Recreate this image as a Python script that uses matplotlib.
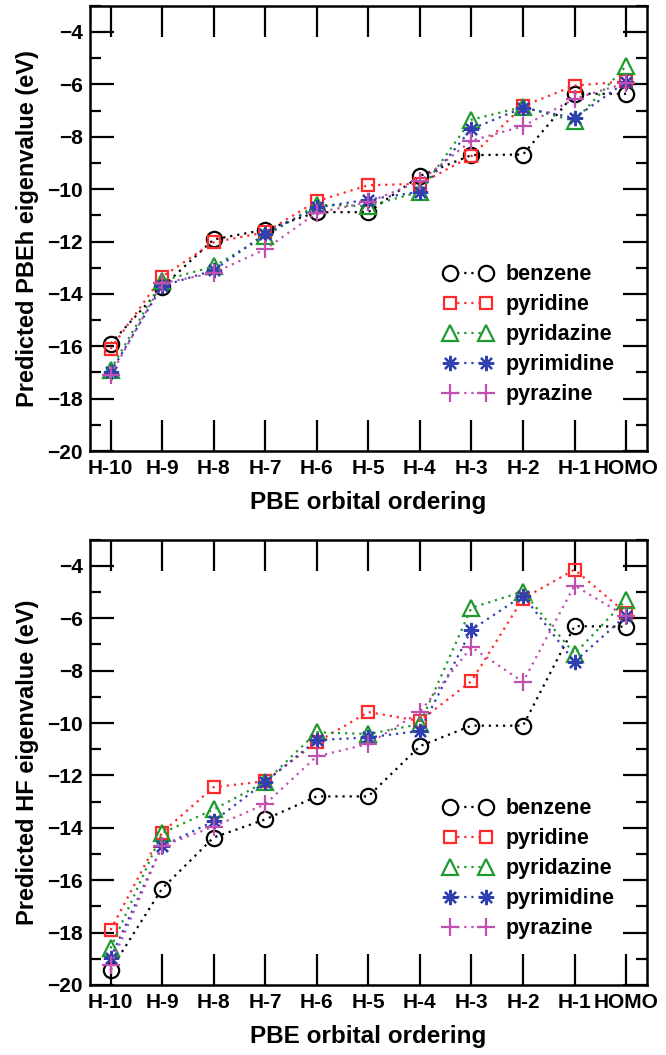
import matplotlib
matplotlib.use("Agg")
import matplotlib.pyplot as plt
from matplotlib.ticker import MultipleLocator

plt.rcParams["font.family"] = ["Liberation Sans", "DejaVu Sans"]
plt.rcParams["font.weight"] = "bold"

orbitals = ["H-10", "H-9", "H-8", "H-7", "H-6", "H-5", "H-4", "H-3", "H-2", "H-1", "HOMO"]
molecules = ["benzene", "pyridine", "pyridazine", "pyrimidine", "pyrazine"]

# predicted PBEh eigenvalues (eV)
pbeh_benzene = [-15.9, -13.75, -11.92, -11.55, -10.88, -10.88, -9.5, -8.7, -8.68, -6.36, -6.36]
pbeh_pyridine = [-16.1, -13.35, -12.03, -11.65, -10.46, -9.85, -9.8, -8.74, -6.83, -6.05, -5.88]
pbeh_pyridazine = [-16.9, -13.5, -12.95, -11.8, -10.6, -10.65, -10.1, -7.35, -6.86, -7.4, -5.3]
pbeh_pyrimidine = [-17.0, -13.7, -13.1, -11.7, -10.7, -10.4, -10.1, -7.7, -6.9, -7.28, -5.9]
pbeh_pyrazine = [-17.1, -13.6, -13.2, -12.3, -10.9, -10.5, -9.7, -8.15, -7.6, -6.55, -5.95]

# predicted HF eigenvalues (eV)
hf_benzene = [-19.43, -16.32, -14.37, -13.68, -12.8, -12.8, -10.88, -10.1, -10.1, -6.3, -6.32]
hf_pyridine = [-17.9, -14.18, -12.45, -12.22, -10.73, -9.58, -9.92, -8.4, -5.25, -4.14, -5.8]
hf_pyridazine = [-18.6, -14.2, -13.3, -12.25, -10.35, -10.42, -10.04, -5.6, -4.98, -7.36, -5.3]
hf_pyrimidine = [-18.97, -14.7, -13.75, -12.25, -10.65, -10.55, -10.3, -6.44, -5.13, -7.66, -5.9]
hf_pyrazine = [-19.25, -14.7, -13.95, -13.1, -11.27, -10.8, -9.58, -7.1, -8.43, -4.75, -5.92]

pbeh_data = [pbeh_benzene, pbeh_pyridine, pbeh_pyridazine, pbeh_pyrimidine, pbeh_pyrazine]
hf_data = [hf_benzene, hf_pyridine, hf_pyridazine, hf_pyrimidine, hf_pyrazine]

colors = ["#000000", "#ff2a2a", "#1f9a2e", "#3040b0", "#c050b0"]
markers = ["o", "s", "^", (8, 2, 0), "+"]
msizes = [11, 9, 11, 11, 13]

fig = plt.figure(figsize=(6.66, 10.55), dpi=100)
ax_top = fig.add_axes([0.135, 0.5725, 0.836, 0.422])
ax_bot = fig.add_axes([0.135, 0.0664, 0.836, 0.422])


def draw_panel(ax, data, ylabel):
    xs = list(range(len(orbitals)))
    for name, vals, c, m, ms in zip(molecules, data, colors, markers, msizes):
        ax.plot(xs, vals, linestyle=(0, (1, 2.2)), linewidth=1.6, color=c,
                marker=m, markersize=ms, markerfacecolor="none",
                markeredgecolor=c, markeredgewidth=1.6, label=name)
    ax.set_xlim(-0.4, 10.4)
    ax.set_ylim(-20, -3)
    ax.set_xticks(xs)
    ax.set_xticklabels(orbitals)
    ax.yaxis.set_major_locator(MultipleLocator(2))
    ax.yaxis.set_minor_locator(MultipleLocator(1))
    ax.tick_params(axis="both", which="major", direction="in", width=1.6,
                   labelsize=15, top=True, right=True)
    ax.tick_params(axis="x", which="major", length=22, pad=6)
    ax.tick_params(axis="y", which="major", length=17, pad=5)
    ax.tick_params(axis="y", which="minor", direction="in", length=8,
                   width=1.6, right=True)
    for lab in ax.get_xticklabels() + ax.get_yticklabels():
        lab.set_fontweight("bold")
    for sp in ax.spines.values():
        sp.set_linewidth(1.8)
    ax.set_xlabel("PBE orbital ordering", fontsize=17.5, fontweight="bold",
                  labelpad=9)
    ax.set_ylabel(ylabel, fontsize=17, fontweight="bold", labelpad=6)
    leg = ax.legend(loc="upper left", bbox_to_anchor=(0.6, 0.463), frameon=False,
                    numpoints=2, handlelength=2.3, handletextpad=0.6,
                    labelspacing=0.42, prop={"size": 15.5, "weight": "bold"})
    for h in leg.legend_handles:
        h.set_markerfacecolor("white")


draw_panel(ax_top, pbeh_data, "Predicted PBEh eigenvalue (eV)")
draw_panel(ax_bot, hf_data, "Predicted HF eigenvalue (eV)")

fig.savefig("out.png", dpi=100)
